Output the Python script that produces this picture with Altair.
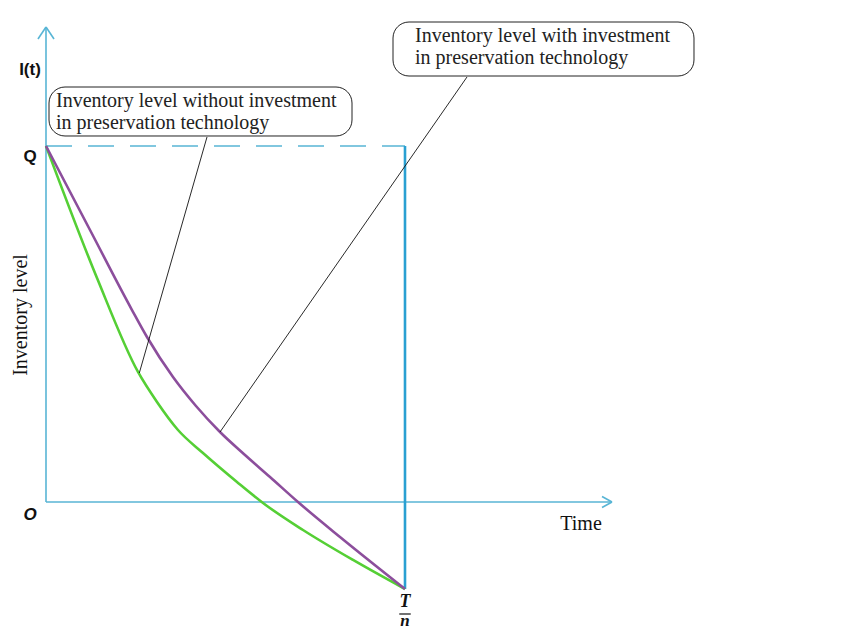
import altair as alt
import pandas as pd

# ---------------- data (time in units of T/n, inventory in units of Q) ----------------
t_without = [0.0, 0.1421, 0.2563, 0.3092, 0.3677, 0.4373, 0.5320, 0.6045, 0.7159, 0.8552, 1.0]
i_without = [1.0, 0.6292, 0.3652, 0.2809, 0.2022, 0.1376, 0.0562, -0.0028, -0.0787, -0.1629, -0.2444]
t_with = [0.0, 0.1226, 0.2396, 0.2813, 0.3538, 0.4178, 0.4847, 0.5543, 0.6240, 0.7019, 0.8189, 1.0]
i_with = [1.0, 0.7640, 0.5393, 0.4635, 0.3511, 0.2697, 0.1966, 0.1320, 0.0702, 0.0, -0.0983, -0.2444]
series_names = ["without", "with"]
series_colors = ["#55cf35", "#8c4e9c"]

# callout boxes
box_t1 = [0.0084, 0.9666]
box_t2 = [0.8524, 1.8050]
box_i1 = [1.1657, 1.3483]
box_i2 = [1.0281, 1.1966]
box_line1 = ["Inventory level without investment", "Inventory level with investment"]
box_line2 = ["in preservation technology", "in preservation technology"]
box_text_t = [0.0279, 1.0279]
box_text_i1 = [1.1264, 1.3090]
box_text_i2 = [1.0646, 1.2472]
# leader lines (box -> curve)
lead_t1 = [0.4485, 1.1727]
lead_i1 = [1.0253, 1.1938]
lead_t2 = [0.2599, 0.4847]
lead_i2 = [0.3624, 0.1966]

# axes
y_axis_top = 1.3343
x_axis_end = 1.5766
arrow_dt = 0.0223
arrow_di = 0.0337
xarrow_dt = 0.0278
xarrow_di = 0.0154
cycle_end = 1.0
q_level = 1.0
bottom_level = -0.2444

# ---------------- layout ----------------
W, H = 838, 623
OX, OY = 38, 494          # origin position inside plot area (px)
SX, SY = 359, 356         # px per unit
x_dom = [-OX / SX, (W - OX) / SX]
y_dom = [(OY - H) / SY, OY / SY]
xs = alt.Scale(domain=x_dom, nice=False, zero=False)
ys = alt.Scale(domain=y_dom, nice=False, zero=False)

def X(f="t"):
    return alt.X(f"{f}:Q", scale=xs, axis=None)

def Y(f="i"):
    return alt.Y(f"{f}:Q", scale=ys, axis=None)

AX = "#58b5d5"
VC = "#2aa0d2"

curves = pd.DataFrame(
    [{"s": "without", "t": t, "i": i, "o": k} for k, (t, i) in enumerate(zip(t_without, i_without))]
    + [{"s": "with", "t": t, "i": i, "o": k} for k, (t, i) in enumerate(zip(t_with, i_with))]
)

axes_df = pd.DataFrame([
    {"t": 0, "i": 0, "t2": 0, "i2": y_axis_top},
    {"t": 0, "i": 0, "t2": x_axis_end, "i2": 0},
    {"t": 0, "i": y_axis_top, "t2": -arrow_dt, "i2": y_axis_top - arrow_di},
    {"t": 0, "i": y_axis_top, "t2": arrow_dt, "i2": y_axis_top - arrow_di},
    {"t": x_axis_end, "i": 0, "t2": x_axis_end - xarrow_dt, "i2": xarrow_di},
    {"t": x_axis_end, "i": 0, "t2": x_axis_end - xarrow_dt, "i2": -xarrow_di},
])
vert_df = pd.DataFrame([{"t": cycle_end, "i": q_level, "t2": cycle_end, "i2": bottom_level}])
dash_df = pd.DataFrame([{"t": 0, "i": q_level, "t2": cycle_end, "i2": q_level}])
lead_df = pd.DataFrame({"t": lead_t1, "i": lead_i1, "t2": lead_t2, "i2": lead_i2})
box_df = pd.DataFrame({"t": box_t1, "t2": box_t2, "i": box_i1, "i2": box_i2})
btxt_df = pd.DataFrame({
    "t": box_text_t * 2,
    "i": box_text_i1 + box_text_i2,
    "txt": box_line1 + box_line2,
})

rule_enc = dict(x=X("t"), y=Y("i"), x2="t2:Q", y2="i2:Q")

axes = alt.Chart(axes_df).mark_rule(color=AX, strokeWidth=1.6).encode(**rule_enc)
vert = alt.Chart(vert_df).mark_rule(color=VC, strokeWidth=2.6).encode(**rule_enc)
dash = alt.Chart(dash_df).mark_rule(color=AX, strokeWidth=1.6, strokeDash=[26, 16]).encode(**rule_enc)
leads = alt.Chart(lead_df).mark_rule(color="#111111", strokeWidth=0.9).encode(**rule_enc)

lines = alt.Chart(curves).mark_line(strokeWidth=2.6, interpolate="monotone").encode(
    x=X("t"), y=Y("i"), order="o:Q",
    color=alt.Color("s:N", scale=alt.Scale(domain=series_names, range=series_colors), legend=None),
)

boxes = alt.Chart(box_df).mark_rect(
    fill="white", stroke="#222222", strokeWidth=1, cornerRadius=16
).encode(x=X("t"), x2="t2:Q", y=Y("i"), y2="i2:Q")

box_text = alt.Chart(btxt_df).mark_text(
    align="left", baseline="middle", font="Liberation Serif", fontSize=20, color="#222222"
).encode(x=X("t"), y=Y("i"), text="txt:N")

def label(txt, t, i, **kw):
    kw.setdefault("baseline", "middle")
    df = pd.DataFrame({"t": [t], "i": [i], "txt": [txt]})
    return alt.Chart(df).mark_text(color="#111111", align="center", **kw).encode(
        x=X("t"), y=Y("i"), text="txt:N"
    )

lab_it = label("I(t)", -0.0446, 1.2135, font="Liberation Sans", fontSize=17, fontWeight="bold")
lab_q = label("Q", -0.0446, 0.969, font="Liberation Sans", fontSize=17, fontWeight="bold")
lab_o = label("O", -0.0446, -0.0365, font="Liberation Sans", fontSize=17, fontWeight="bold", fontStyle="italic")
lab_time = label("Time", 1.4903, -0.0618, font="Liberation Serif", fontSize=20)
lab_inv = label("Inventory level", -0.0710, 0.5253, font="Liberation Serif", fontSize=20, angle=270)
lab_T = label("T", 1.0, -0.2809, font="Liberation Serif", fontSize=18, fontWeight="bold", fontStyle="italic")
lab_n = label("n", 1.0, -0.3483, font="Liberation Serif", fontSize=17, fontWeight="bold",
              fontStyle="italic", baseline="alphabetic")
bar_df = pd.DataFrame([{"t": 0.984, "i": -0.3146, "t2": 1.016, "i2": -0.3146}])
frac = alt.Chart(bar_df).mark_rule(color="#111111", strokeWidth=1.2).encode(**rule_enc)

chart = alt.layer(
    dash, axes, vert, lines, leads, boxes, box_text,
    lab_it, lab_q, lab_o, lab_time, lab_inv, lab_T, lab_n, frac,
).properties(
    width=W, height=H, padding=0,
    autosize=alt.AutoSizeParams(type="none"),
).configure_view(stroke=None)

chart.save("out.html", embed_options={"renderer": "svg", "actions": False})
